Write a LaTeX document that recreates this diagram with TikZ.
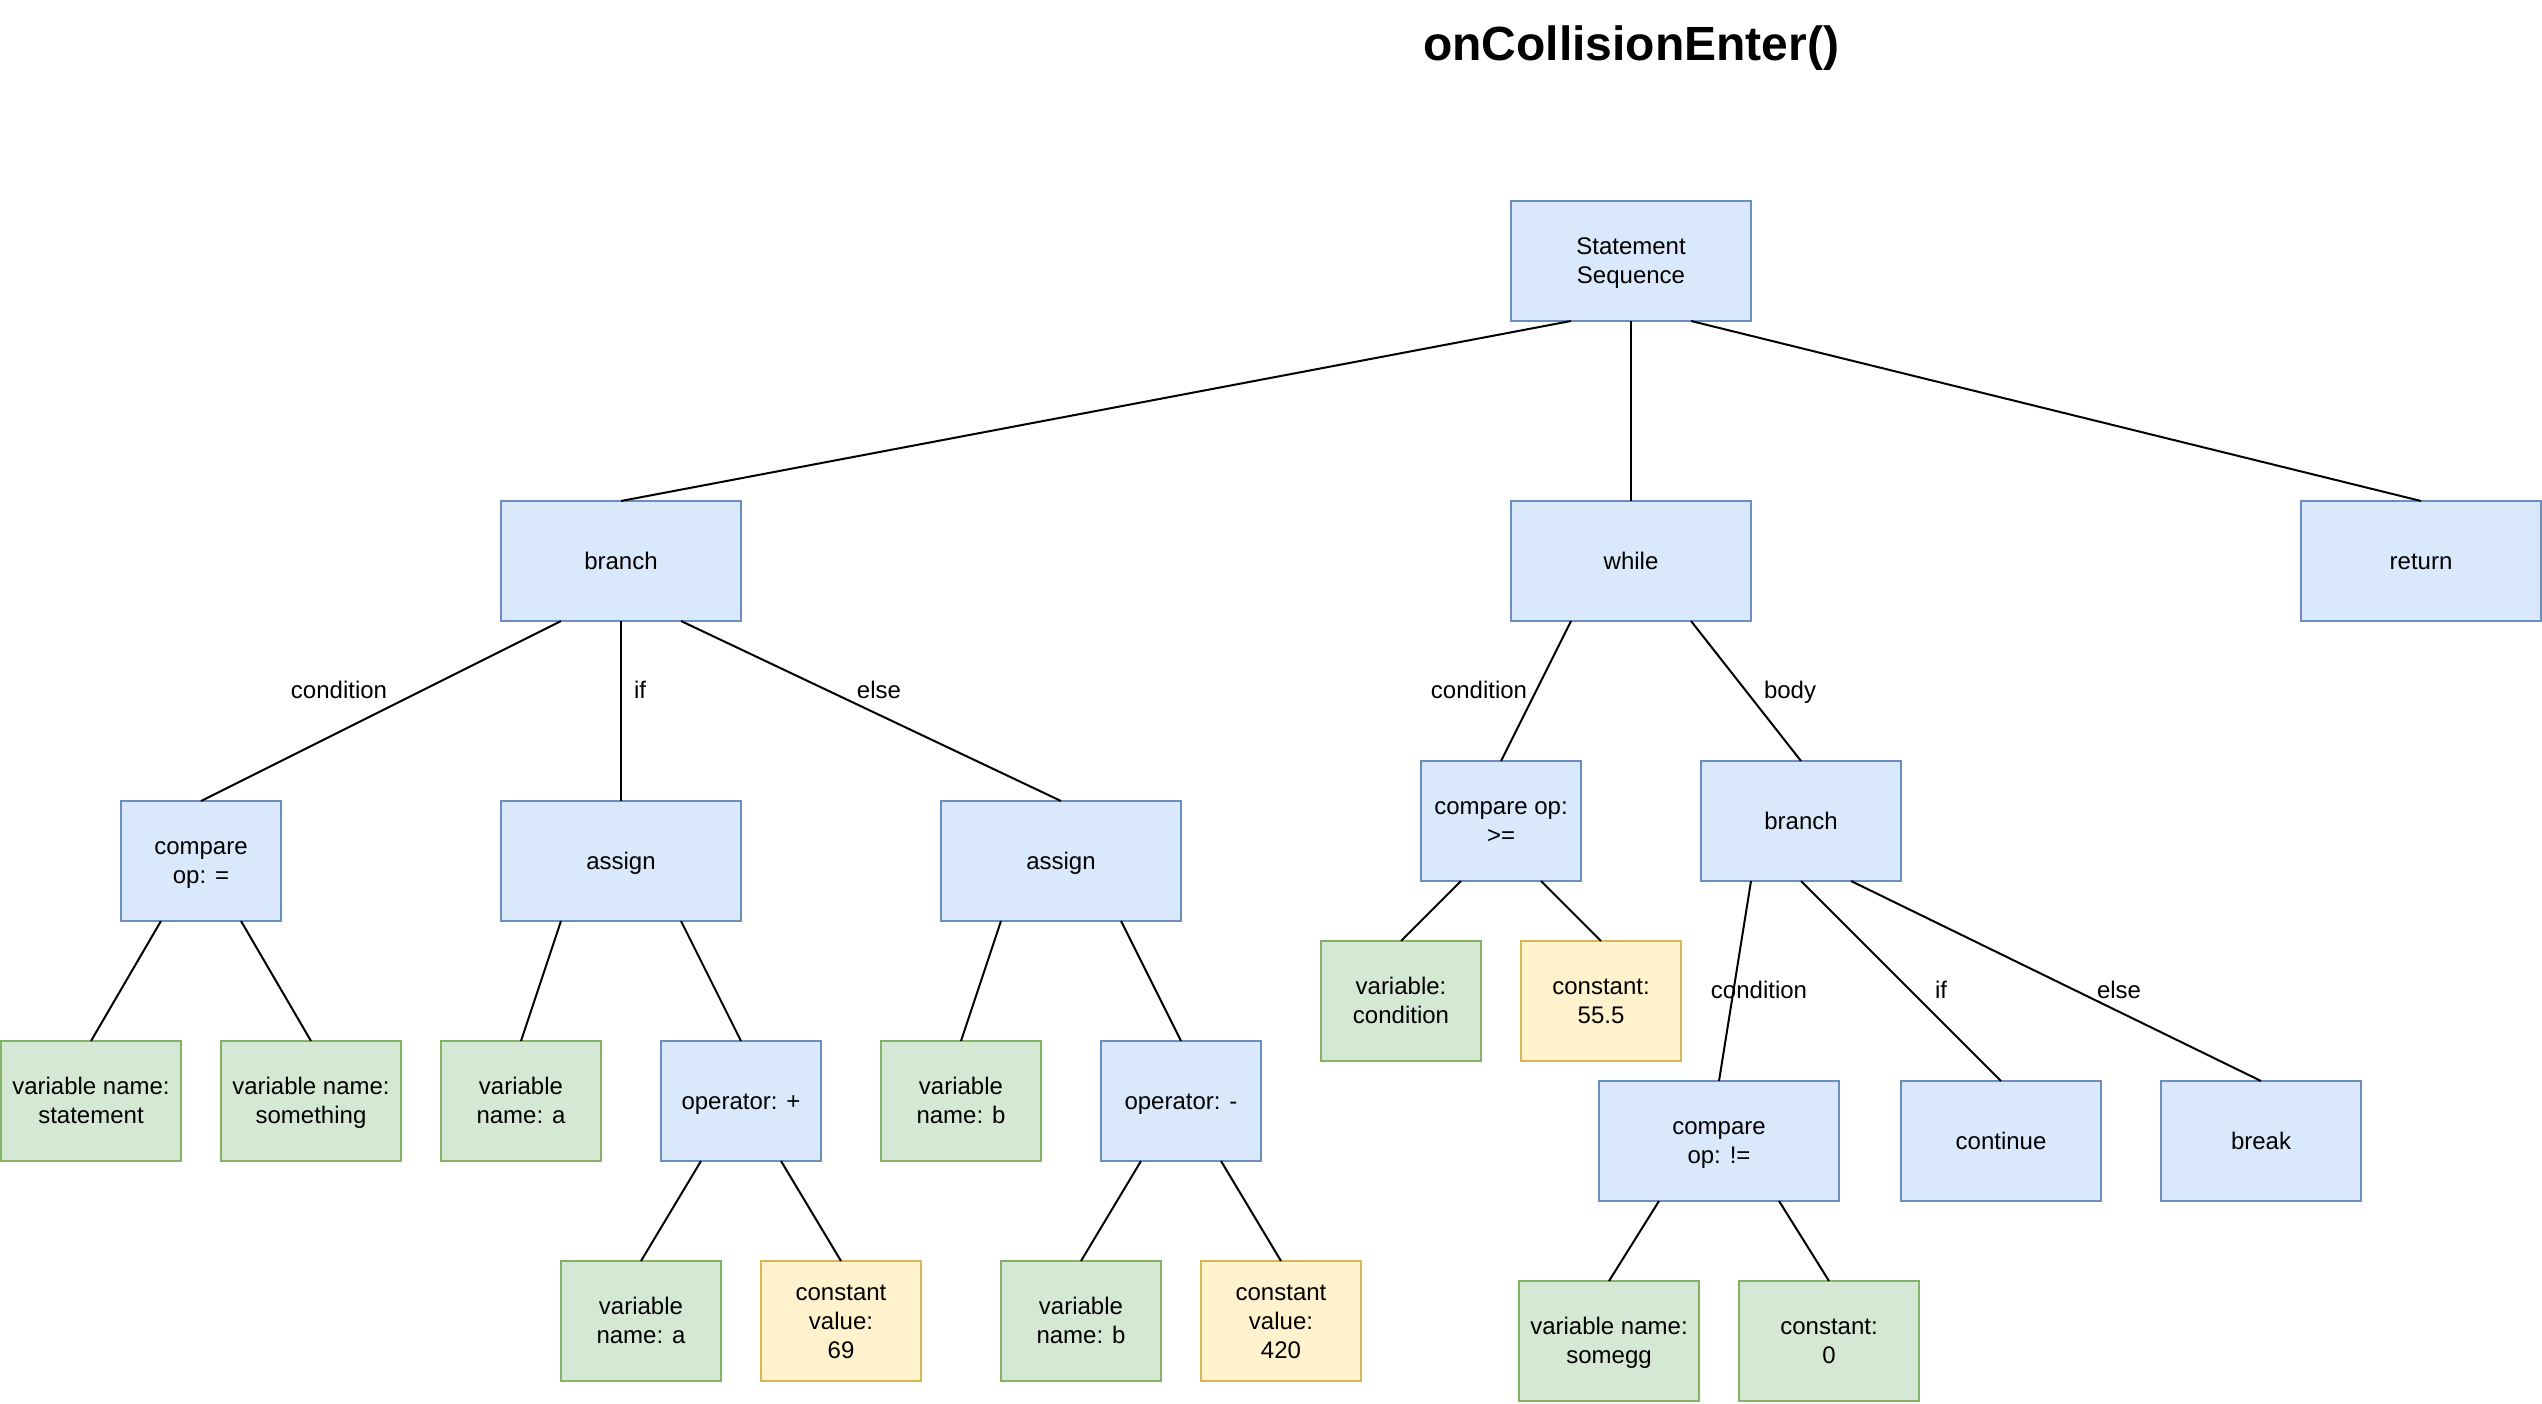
\documentclass[tikz,border=0pt]{standalone}
\usepackage{fontspec}
\setmainfont{Liberation Sans}
\usetikzlibrary{calc}

\definecolor{blueFill}{HTML}{DAE8FC}
\definecolor{blueLine}{HTML}{6C8EBF}
\definecolor{greenFill}{HTML}{D5E8D4}
\definecolor{greenLine}{HTML}{82B366}
\definecolor{yellowFill}{HTML}{FFF2CC}
\definecolor{yellowLine}{HTML}{D6B656}

% one text row: 22.7pt above the baseline, 6.1pt below (28.8pt per row)
\newcommand{\rowstrut}{\rule[-6.1pt]{0pt}{28.8pt}}

\tikzset{
  txt/.style={font=\fontsize{24}{28.8}\selectfont, inner sep=0pt, outer sep=0pt},
  box/.style={txt, draw, line width=2pt, minimum height=120pt, align=center},
  bluebox/.style={box, fill=blueFill, draw=blueLine},
  greenbox/.style={box, fill=greenFill, draw=greenLine},
  yellowbox/.style={box, fill=yellowFill, draw=yellowLine},
  w160/.style={minimum width=160pt},
  w180/.style={minimum width=180pt},
  w200/.style={minimum width=200pt},
  w240/.style={minimum width=240pt},
  edge/.style={draw=black, line width=2pt},
  lbl/.style={txt, anchor=base},
}

\begin{document}
\begin{tikzpicture}[x=1pt, y=-1pt]
\useasboundingbox (0,0) rectangle (2542,1404);

% title
\node[txt, anchor=base, font=\fontsize{48}{57.6}\selectfont\bfseries] (title) at (1631,61) {onCollisionEnter()};

% level 0 and 1
\node[bluebox, w240] (seq) at (1631,261) {\rowstrut Statement\\\rowstrut Sequence};
\node[bluebox, w240] (br1) at (621,561) {\rowstrut branch};
\node[bluebox, w240] (wh) at (1631,561) {\rowstrut while};
\node[bluebox, w240] (ret) at (2421,561) {\rowstrut return};

% first branch subtree
\node[bluebox, w160] (cmpeq) at (201,861) {\rowstrut compare\\\rowstrut op: =};
\node[bluebox, w240] (asg1) at (621,861) {\rowstrut assign};
\node[bluebox, w240] (asg2) at (1061,861) {\rowstrut assign};

\node[greenbox, w180] (vstat) at (91,1101) {\rowstrut variable name:\\\rowstrut statement};
\node[greenbox, w180] (vsome) at (311,1101) {\rowstrut variable name:\\\rowstrut something};
\node[greenbox, w160] (va1) at (521,1101) {\rowstrut variable\\\rowstrut name: a};
\node[bluebox, w160] (plus) at (741,1101) {\rowstrut operator: +};
\node[greenbox, w160] (vb1) at (961,1101) {\rowstrut variable\\\rowstrut name: b};
\node[bluebox, w160] (minus) at (1181,1101) {\rowstrut operator: -};

\node[greenbox, w160] (va2) at (641,1321) {\rowstrut variable\\\rowstrut name: a};
\node[yellowbox, w160] (c69) at (841,1321) {\rowstrut constant\\\rowstrut value:\\\rowstrut 69};
\node[greenbox, w160] (vb2) at (1081,1321) {\rowstrut variable\\\rowstrut name: b};
\node[yellowbox, w160] (c420) at (1281,1321) {\rowstrut constant\\\rowstrut value:\\\rowstrut 420};

% while subtree
\node[bluebox, w160] (cmpge) at (1501,821) {\rowstrut compare op:\\\rowstrut >=};
\node[bluebox, w200] (br2) at (1801,821) {\rowstrut branch};
\node[greenbox, w160] (vcond) at (1401,1001) {\rowstrut variable:\\\rowstrut condition};
\node[yellowbox, w160] (c555) at (1601,1001) {\rowstrut constant:\\\rowstrut 55.5};
\node[bluebox, w240] (cmpne) at (1719,1141) {\rowstrut compare\\\rowstrut op: !=};
\node[bluebox, w200] (cont) at (2001,1141) {\rowstrut continue};
\node[bluebox, w200] (brk) at (2261,1141) {\rowstrut break};
\node[greenbox, w180] (vsomegg) at (1609,1341) {\rowstrut variable name:\\\rowstrut somegg};
\node[greenbox, w180] (c0) at (1829,1341) {\rowstrut constant:\\\rowstrut 0};

% connectors: from a quarter point of the parent's bottom to the child's top
\newcommand{\qa}[2]{($(#1.south west)!#2!(#1.south east)$)}
\path[edge] \qa{seq}{0.25} -- (br1.north);
\path[edge] (seq.south) -- (wh.north);
\path[edge] \qa{seq}{0.75} -- (ret.north);

\path[edge] \qa{br1}{0.25} -- (cmpeq.north);
\path[edge] (br1.south) -- (asg1.north);
\path[edge] \qa{br1}{0.75} -- (asg2.north);

\path[edge] \qa{cmpeq}{0.25} -- (vstat.north);
\path[edge] \qa{cmpeq}{0.75} -- (vsome.north);
\path[edge] \qa{asg1}{0.25} -- (va1.north);
\path[edge] \qa{asg1}{0.75} -- (plus.north);
\path[edge] \qa{asg2}{0.25} -- (vb1.north);
\path[edge] \qa{asg2}{0.75} -- (minus.north);
\path[edge] \qa{plus}{0.25} -- (va2.north);
\path[edge] \qa{plus}{0.75} -- (c69.north);
\path[edge] \qa{minus}{0.25} -- (vb2.north);
\path[edge] \qa{minus}{0.75} -- (c420.north);

\path[edge] \qa{wh}{0.25} -- (cmpge.north);
\path[edge] \qa{wh}{0.75} -- (br2.north);
\path[edge] \qa{cmpge}{0.25} -- (vcond.north);
\path[edge] \qa{cmpge}{0.75} -- (c555.north);
\path[edge] \qa{br2}{0.25} -- (cmpne.north);
\path[edge] (br2.south) -- (cont.north);
\path[edge] \qa{br2}{0.75} -- (brk.north);
\path[edge] \qa{cmpne}{0.25} -- (vsomegg.north);
\path[edge] \qa{cmpne}{0.75} -- (c0.north);

% role labels
\node[lbl] (l1) at (339,698) {condition};
\node[lbl] (l2) at (640,698) {if};
\node[lbl] (l3) at (879,698) {else};
\node[lbl] (l4) at (1479,698) {condition};
\node[lbl] (l5) at (1790,698) {body};
\node[lbl] (l6) at (1759,998) {condition};
\node[lbl] (l7) at (1941,998) {if};
\node[lbl] (l8) at (2119,998) {else};
\end{tikzpicture}
\end{document}
